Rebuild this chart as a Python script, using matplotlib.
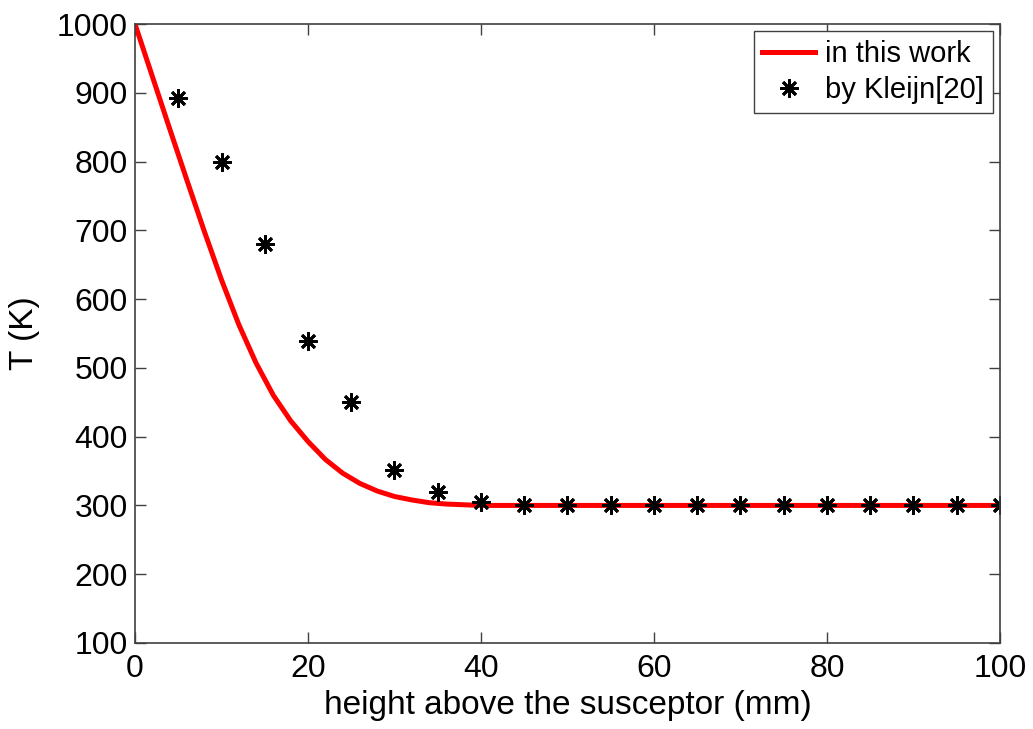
import matplotlib.pyplot as plt

plt.rcParams['font.family'] = ['Liberation Sans', 'DejaVu Sans']

# curve "in this work"
x_work = [0, 2, 4, 6, 8, 10, 12, 14, 16, 18, 20, 22, 24, 26, 28, 30, 32, 34, 36, 38, 40, 100]
T_work = [1000, 924, 848, 773, 699, 628, 563, 507, 460, 423, 393, 367, 347, 332, 321, 313, 308, 304, 302, 301, 300, 300]

# points "by Kleijn[20]"
x_kleijn = [5, 10, 15, 20, 25, 30, 35, 40, 45, 50, 55, 60, 65, 70, 75, 80, 85, 90, 95, 100]
T_kleijn = [892, 800, 680, 539, 450, 351, 319, 305, 300, 300, 300, 300, 300, 300, 300, 300, 300, 300, 300, 300]

fig = plt.figure(figsize=(10.33, 7.29), dpi=100)
ax = fig.add_axes([0.1307, 0.118, 0.8373, 0.849])

ax.plot(x_work, T_work, color='red', linewidth=3.6, label='in this work')
ax.plot(x_kleijn, T_kleijn, linestyle='none', marker=(8, 2, 0), markersize=13,
        markeredgewidth=2.0, color='black', label='by Kleijn[20]')

ax.set_xlim(0, 100)
ax.set_ylim(100, 1000)
ax.set_xticks(range(0, 101, 20))
ax.set_yticks(range(100, 1001, 100))
ax.tick_params(direction='in', length=8, width=1, top=True, right=True,
               labelsize=23, colors='#404040', labelcolor='black')
ax.tick_params(axis='x', pad=8)
ax.tick_params(axis='y', pad=5)
for s in ax.spines.values():
    s.set_linewidth(1.2)
    s.set_color('#404040')

ax.set_xlabel('height above the susceptor (mm)', fontsize=24, labelpad=4)
ax.set_ylabel('T (K)', fontsize=24, labelpad=12)

leg = ax.legend(loc='upper right', fontsize=21, fancybox=False, framealpha=1,
                edgecolor='#404040', handlelength=1.8, handletextpad=0.35,
                borderpad=0.3, labelspacing=0.28, borderaxespad=0.25)
leg.get_frame().set_linewidth(1.0)

plt.savefig('out.png', dpi=100)
